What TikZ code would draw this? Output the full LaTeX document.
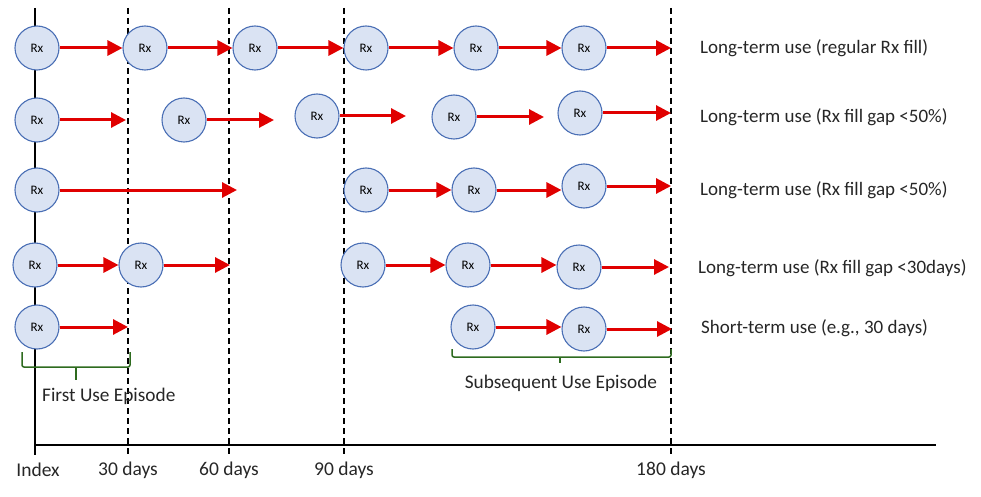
\documentclass[tikz,border=0pt]{standalone}
\usepackage{fontspec}
\setmainfont{Carlito}
\usetikzlibrary{arrows.meta}
\definecolor{rxfill}{HTML}{DAE3F3}
\definecolor{rxdraw}{HTML}{4A6FB5}
\definecolor{arrred}{HTML}{E00000}
\definecolor{brgreen}{HTML}{2E6B1F}
\definecolor{txt}{HTML}{262626}
\tikzset{
  rx/.style={circle, draw=rxdraw, fill=rxfill, line width=1.1pt, minimum size=44pt, inner sep=0pt, font=\fontsize{13}{15}\selectfont, text=black},
  fill arrow/.style={draw=arrred, line width=3pt, -{Triangle[length=15pt,width=15pt]}, shorten >=0pt},
  dashline/.style={line width=1.6pt, dash pattern=on 6pt off 4pt},
  axisline/.style={line width=2pt},
  rowlabel/.style={anchor=west, font=\fontsize{19}{22}\selectfont, text=txt, inner sep=0pt},
  ticklabel/.style={font=\fontsize{19.5}{22}\selectfont, text=txt, inner sep=0pt},
  bracket/.style={draw=brgreen, line width=1.5pt, rounded corners=2pt},
  eplabel/.style={font=\fontsize{19.3}{22}\selectfont, text=txt, inner sep=0pt}
}
\begin{document}
\begin{tikzpicture}[x=1pt,y=-1pt]
\useasboundingbox (0,0) rectangle (981,497);
% axes
\coordinate (ax0) at (35,8);
\coordinate (ax1) at (35,445);
\coordinate (ax2) at (936,445);
\draw[axisline] (ax0) -- (ax1) -- (ax2);
\coordinate (t0) at (35,455);
\draw[axisline] (ax1) -- (t0);
% dashed verticals
\foreach \n/\x in {d30/128, d60/229, d90/344, d180/671}{
  \coordinate (\n top) at (\x,8);
  \coordinate (\n bot) at (\x,455);
  \draw[dashline] (\n top) -- (\n bot);
}
% tick labels
\node[ticklabel] (lidx) at (38,470) {Index};
\node[ticklabel] (l30) at (128,470) {30 days};
\node[ticklabel] (l60) at (229,470) {60 days};
\node[ticklabel] (l90) at (344,470) {90 days};
\node[ticklabel] (l180) at (671,470) {180 days};

% Row 1
\node[rx] (a1) at (37,48) {Rx};
\node[rx] (a2) at (145,48) {Rx};
\node[rx] (a3) at (255,48) {Rx};
\node[rx] (a4) at (366,48) {Rx};
\node[rx] (a5) at (476,48) {Rx};
\node[rx] (a6) at (584,48) {Rx};
\coordinate (a7) at (671,48);
\draw[fill arrow] (a1) -- (a2);
\draw[fill arrow] (a2) -- (a3);
\draw[fill arrow] (a3) -- (a4);
\draw[fill arrow] (a4) -- (a5);
\draw[fill arrow] (a5) -- (a6);
\draw[fill arrow] (a6) -- (a7);
\node[rowlabel] (lab1) at (700,48) {Long-term use (regular Rx fill)};

% Row 2
\node[rx] (b1) at (37,120) {Rx};
\coordinate (b1e) at (126,120);
\node[rx] (b2) at (184,120) {Rx};
\coordinate (b2e) at (274,120);
\node[rx] (b3) at (317,116) {Rx};
\coordinate (b3e) at (406,116);
\node[rx] (b4) at (454,117) {Rx};
\coordinate (b4e) at (544,117);
\node[rx] (b5) at (580,113) {Rx};
\coordinate (b5e) at (671,113);
\draw[fill arrow] (b1) -- (b1e);
\draw[fill arrow] (b2) -- (b2e);
\draw[fill arrow] (b3) -- (b3e);
\draw[fill arrow] (b4) -- (b4e);
\draw[fill arrow] (b5) -- (b5e);
\node[rowlabel] (lab2) at (700,117) {Long-term use (Rx fill gap <50\%)};

% Row 3
\node[rx] (c1) at (37,190) {Rx};
\coordinate (c1e) at (237,190);
\node[rx] (c2) at (366,190) {Rx};
\node[rx] (c3) at (474,190) {Rx};
\node[rx] (c4) at (584,186) {Rx};
\coordinate (c5) at (671,186);
\draw[fill arrow] (c1) -- (c1e);
\draw[fill arrow] (c2) -- (c3);
\draw[fill arrow] (c3) -- (c4.west |- c3);
\draw[fill arrow] (c4) -- (c5);
\node[rowlabel] (lab3) at (700,190) {Long-term use (Rx fill gap <50\%)};

% Row 4
\node[rx] (e1) at (35,265) {Rx};
\node[rx] (e2) at (141,265) {Rx};
\coordinate (e2e) at (230,265);
\node[rx] (e3) at (363,265) {Rx};
\node[rx] (e4) at (468,265) {Rx};
\node[rx] (e5) at (579,267) {Rx};
\coordinate (e6) at (669,267);
\draw[fill arrow] (e1) -- (e2);
\draw[fill arrow] (e2) -- (e2e);
\draw[fill arrow] (e3) -- (e4);
\draw[fill arrow] (e4) -- (e5.west |- e4);
\draw[fill arrow] (e5) -- (e6);
\node[rowlabel] (lab4) at (698,268) {Long-term use (Rx fill gap <30days)};

% Row 5
\node[rx] (f1) at (37,327) {Rx};
\coordinate (f1e) at (128,327);
\node[rx] (f2) at (473,327) {Rx};
\node[rx] (f3) at (584,329) {Rx};
\coordinate (f4) at (672,329);
\draw[fill arrow] (f1) -- (f1e);
\draw[fill arrow] (f2) -- (f3.west |- f2);
\draw[fill arrow] (f3) -- (f4);
\node[rowlabel] (lab5) at (701,328) {Short-term use (e.g., 30 days)};

% brackets
\coordinate (p1) at (22,352);
\coordinate (p2) at (130,352);
\coordinate (p3) at (76,380);
\draw[bracket] (p1) -- (22,367) -- (130,367) -- (p2);
\draw[bracket] (76,367) -- (p3);
\node[eplabel, anchor=west] (ep1) at (42,396) {First Use Episode};

\coordinate (q1) at (452,349);
\coordinate (q2) at (671,349);
\coordinate (q3) at (560,363);
\draw[bracket] (q1) -- (452,357) -- (671,357) -- (q2);
\draw[bracket] (560,357) -- (q3);
\node[eplabel] (ep2) at (561,383) {Subsequent Use Episode};
\end{tikzpicture}
\end{document}
